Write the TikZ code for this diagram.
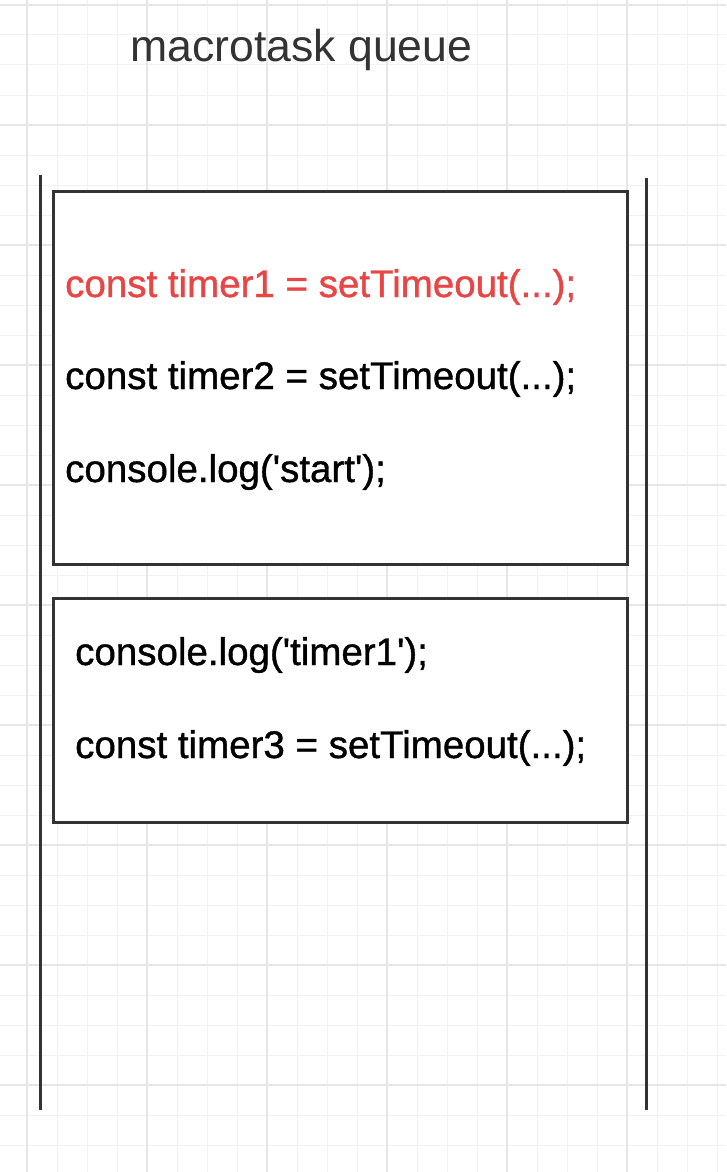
\documentclass[tikz,border=0pt]{standalone}
\usepackage{fontspec}
\setmainfont{Liberation Sans}
\newfontfamily\codefont{Liberation Sans}[FakeBold=1]
\definecolor{gridminor}{HTML}{F2F2F2}
\definecolor{gridmajor}{HTML}{E6E6E6}
\definecolor{ink}{HTML}{333333}
\definecolor{redtxt}{HTML}{E84545}
\newcommand{\sq}{\textquotesingle}
\begin{document}
\begin{tikzpicture}[x=1pt,y=-1pt,
  minorgrid/.style={draw=gridminor,line width=1pt},
  majorgrid/.style={draw=gridmajor,line width=2pt},
  taskbox/.style={draw=ink,line width=3pt,fill=white,rectangle,inner sep=0pt,anchor=north west},
  wall/.style={draw=ink,line width=3pt},
  code/.style={anchor=base west,inner sep=0pt,font=\codefont\fontsize{38.5}{38.5}\selectfont,text=black},
  title/.style={anchor=base west,inner sep=0pt,font=\fontsize{44.6}{44.6}\selectfont,text=ink}]
\useasboundingbox (0,0) rectangle (726,1172);
\fill[white] (0,0) rectangle (726,1172);
% grid
\foreach \x in {-3,27,...,726} { \draw[minorgrid] (\x,0) -- (\x,1172); }
\foreach \y in {5,35,...,1172} { \draw[minorgrid] (0,\y) -- (726,\y); }
\foreach \x in {27,147,...,726} { \draw[majorgrid] (\x,0) -- (\x,1172); }
\foreach \y in {5,125,...,1172} { \draw[majorgrid] (0,\y) -- (726,\y); }
% title
\node[title] (title) at (130,62) {macrotask queue};
% walls
\coordinate (lt) at (40,175);
\coordinate (lb) at (40,1110);
\coordinate (rt) at (646,178);
\coordinate (rb) at (646,1110);
\draw[wall] (lt) -- (lb);
\draw[wall] (rt) -- (rb);
% boxes
\node[taskbox,minimum width=574pt,minimum height=373pt] (box1) at (52,190) {};
\node[taskbox,minimum width=574pt,minimum height=224pt] (box2) at (52,597) {};
% code lines
\node[code,text=redtxt] (l1) at (65,297) {const timer1 = setTimeout(...);};
\node[code] (l2) at (65,389) {const timer2 = setTimeout(...);};
\node[code] (l3) at (65,482) {console.log(\sq start\sq);};
\node[code] (l4) at (75,665) {console.log(\sq timer1\sq);};
\node[code] (l5) at (75,758) {const timer3 = setTimeout(...);};
\end{tikzpicture}
\end{document}
